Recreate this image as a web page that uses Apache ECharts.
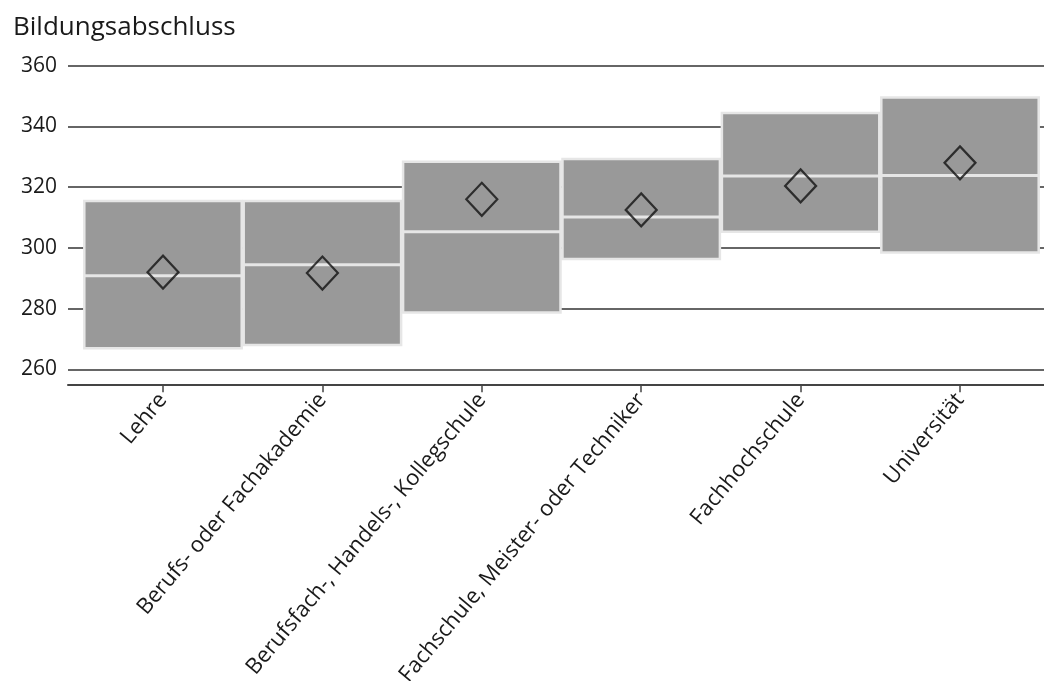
<!DOCTYPE html>
<html><head><meta charset="utf-8">
<script src="https://cdn.jsdelivr.net/npm/echarts@6/dist/echarts.min.js"></script>
<style>html,body{margin:0;padding:0;background:#fff}#c{width:1044px;height:681px}</style>
</head><body><div id="c"></div>
<script>
var categories = ['Lehre','Berufs- oder Fachakademie','Berufsfach-, Handels-, Kollegschule','Fachschule, Meister- oder Techniker','Fachhochschule','Universität'];
var q1 = [266.9, 268.0, 278.7, 296.3, 305.3, 298.5];
var median = [290.8, 294.4, 305.3, 310.2, 323.7, 323.8];
var q3 = [315.4, 315.4, 328.4, 329.3, 344.4, 349.5];
var mean = [292.0, 291.7, 316.0, 312.5, 320.4, 328.0];
var yTicks = [260, 280, 300, 320, 340, 360];

var FONT = 'Open Sans';
var boxData = categories.map(function(c, i){ return [i, q1[i], median[i], q3[i]]; });
var meanData = categories.map(function(c, i){ return [i, mean[i]]; });
var idx = categories.map(function(c, i){ return i; });

var chart = echarts.init(document.getElementById('c'), null, {renderer:'canvas'});
chart.setOption({
  animation: false,
  textStyle: {fontFamily: FONT},
  title: {text: 'Bildungsabschluss', left: 8, top: 10,
    textStyle: {fontFamily: FONT, fontSize: 26, fontWeight: 'normal', color: '#1a1a1a'}},
  grid: {left: 68, right: 0, top: 65.7, bottom: 681 - 369.3, containLabel: false, outerBoundsMode: 'none'},
  xAxis: {
    type: 'value', min: -0.596, max: 5.527, offset: 15,
    splitLine: {show: false},
    axisLine: {show: true, onZero: false, lineStyle: {color: '#444', width: 2}},
    axisTick: {show: true, customValues: idx, length: 8, inside: false, lineStyle: {color: '#444', width: 1.5}},
    axisLabel: {show: true, customValues: idx, rotate: 50, margin: 12, fontSize: 22, color: '#1a1a1a', fontFamily: FONT,
      formatter: function(v){ return categories[Math.round(v)]; }}
  },
  yAxis: {
    type: 'value', min: 260, max: 360, interval: 20,
    axisLine: {show: false}, axisTick: {show: false},
    axisLabel: {fontSize: 21, color: '#1a1a1a', margin: 11, fontFamily: FONT,
      formatter: function(v){ return yTicks.indexOf(v) >= 0 ? String(v) : ''; }},
    splitLine: {show: true, lineStyle: {color: '#333', width: 1.5}}
  },
  series: [{
    type: 'custom',
    data: boxData,
    encode: {x: 0, y: [1, 2, 3]},
    z: 2,
    renderItem: function(params, api){
      var i = api.value(0);
      var w = api.size([1, 0])[0];
      var pLo = api.coord([i, api.value(1)]);
      var pMed = api.coord([i, api.value(2)]);
      var pHi = api.coord([i, api.value(3)]);
      var x0 = pLo[0] - w / 2;
      return {type: 'group', children: [
        {type: 'rect', shape: {x: x0 + 1, y: pHi[1], width: w - 2, height: pLo[1] - pHi[1]},
          style: {fill: '#999999', stroke: '#e6e6e6', lineWidth: 2.5}},
        {type: 'line', shape: {x1: x0 + 1, y1: pMed[1], x2: x0 + w - 1, y2: pMed[1]},
          style: {stroke: '#e6e6e6', lineWidth: 3}}
      ]};
    }
  }, {
    type: 'scatter',
    data: meanData,
    z: 3,
    symbol: 'diamond',
    symbolSize: [31, 33],
    itemStyle: {color: 'rgba(0,0,0,0)', borderColor: '#111', borderWidth: 2.2}
  }]
});
</script></body></html>
